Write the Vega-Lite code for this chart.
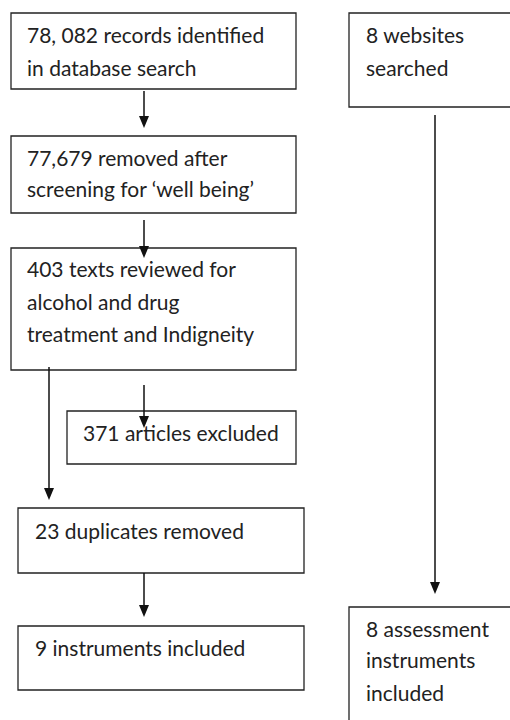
{
  "$schema": "https://vega.github.io/schema/vega-lite/v6.json",
  "width": 510,
  "height": 720,
  "padding": 0,
  "autosize": {"type": "none"},
  "background": "white",
  "config": {"view": {"stroke": null}, "axis": {"disable": true}},
  "datasets": {
    "boxes": [
      {"x": 11, "x2": 296, "y": 13, "y2": 89},
      {"x": 349, "x2": 520, "y": 13, "y2": 107},
      {"x": 11, "x2": 296, "y": 136, "y2": 213},
      {"x": 11, "x2": 296, "y": 248, "y2": 370},
      {"x": 67, "x2": 296, "y": 411, "y2": 464},
      {"x": 18, "x2": 304, "y": 508, "y2": 573},
      {"x": 18, "x2": 304, "y": 626, "y2": 690},
      {"x": 349, "x2": 520, "y": 607, "y2": 740}
    ],
    "lines": [
      {"x": 144, "y": 91, "y2": 123},
      {"x": 144, "y": 220, "y2": 253},
      {"x": 144, "y": 385, "y2": 423},
      {"x": 49, "y": 367, "y2": 495},
      {"x": 144, "y": 573, "y2": 612},
      {"x": 435, "y": 115, "y2": 589}
    ],
    "tips": [
      {"x": 144, "y": 128},
      {"x": 144, "y": 258},
      {"x": 144, "y": 428},
      {"x": 49, "y": 500},
      {"x": 144, "y": 617},
      {"x": 435, "y": 594}
    ],
    "texts": [
      {"x": 27, "y": 43, "label": "78, 082 records identified"},
      {"x": 27, "y": 76, "label": "in database search"},
      {"x": 366, "y": 43, "label": "8 websites"},
      {"x": 366, "y": 76, "label": "searched"},
      {"x": 27, "y": 166, "label": "77,679 removed after"},
      {"x": 27, "y": 197, "label": "screening for ‘well being’"},
      {"x": 27, "y": 277, "label": "403 texts reviewed for"},
      {"x": 27, "y": 310, "label": "alcohol and drug"},
      {"x": 27, "y": 342, "label": "treatment and Indigneity"},
      {"x": 83, "y": 441, "label": "371 articles excluded"},
      {"x": 35, "y": 539, "label": "23 duplicates removed"},
      {"x": 35, "y": 656, "label": "9 instruments included"},
      {"x": 366, "y": 637, "label": "8 assessment"},
      {"x": 366, "y": 668, "label": "instruments"},
      {"x": 366, "y": 701, "label": "included"}
    ]
  },
  "layer": [
    {
      "data": {"name": "boxes"},
      "mark": {"type": "rect", "fill": "white", "stroke": "#222222", "strokeWidth": 1.3, "clip": true},
      "encoding": {
        "x": {"field": "x", "type": "quantitative", "scale": {"domain": [0, 510], "nice": false, "zero": false}, "axis": null},
        "x2": {"field": "x2"},
        "y": {"field": "y", "type": "quantitative", "scale": {"domain": [720, 0], "nice": false, "zero": false}, "axis": null},
        "y2": {"field": "y2"}
      }
    },
    {
      "data": {"name": "texts"},
      "mark": {"type": "text", "align": "left", "baseline": "alphabetic", "font": "Lato", "fontSize": 21, "color": "#222222"},
      "encoding": {
        "x": {"field": "x", "type": "quantitative"},
        "y": {"field": "y", "type": "quantitative"},
        "text": {"field": "label"}
      }
    },
    {
      "data": {"name": "lines"},
      "mark": {"type": "rule", "stroke": "#111111", "strokeWidth": 1.5},
      "encoding": {
        "x": {"field": "x", "type": "quantitative"},
        "y": {"field": "y", "type": "quantitative"},
        "y2": {"field": "y2"}
      }
    },
    {
      "data": {"name": "tips"},
      "mark": {"type": "point", "shape": "M-1,-2.4L1,-2.4L0,0Z", "filled": true, "color": "#111111", "size": 100, "opacity": 1},
      "encoding": {
        "x": {"field": "x", "type": "quantitative"},
        "y": {"field": "y", "type": "quantitative"}
      }
    }
  ]
}
